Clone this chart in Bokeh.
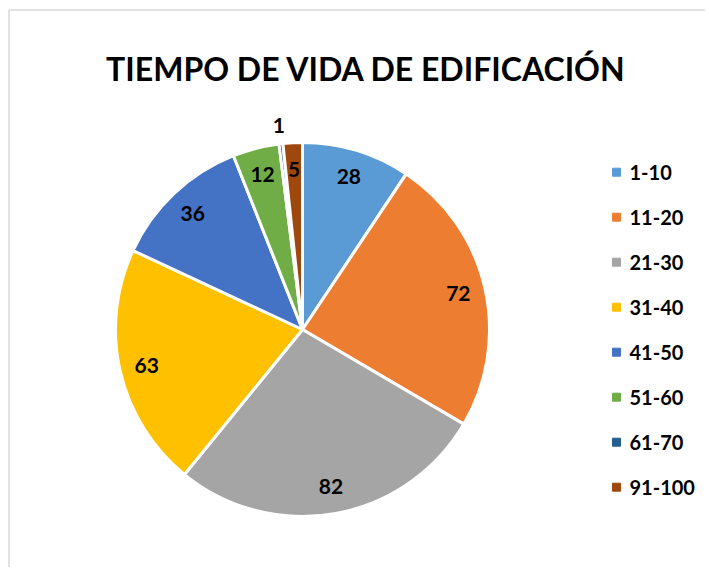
import math
from bokeh.plotting import figure
from bokeh.models import ColumnDataSource, Range1d
from bokeh.core.properties import value
from bokeh.embed import file_html
from bokeh.resources import INLINE

title_text = "TIEMPO DE VIDA DE EDIFICACIÓN"
categories = ["1-10", "11-20", "21-30", "31-40", "41-50", "51-60", "61-70", "91-100"]
counts = [28, 72, 82, 63, 36, 12, 1, 5]
colors = ["#5B9BD5", "#ED7D31", "#A5A5A5", "#FFC000", "#4472C4", "#70AD47", "#255E91", "#9E480E"]

W, H = 705, 567
FONT = "Lato"

p = figure(width=W, height=H, output_backend="svg", toolbar_location=None,
           x_range=Range1d(0, W), y_range=Range1d(0, H), min_border=0)
p.axis.visible = False
p.xgrid.visible = False
p.ygrid.visible = False
p.outline_line_color = None
p.background_fill_color = "white"
p.border_fill_color = "white"

# chart frame (left and top edges visible)
p.line(x=[8.5, 8.5, W], y=[0, H - 9.5, H - 9.5], line_color="#D9D9D9", line_width=1.5)

cx, cy, R = 302, H - 329, 187
total = float(sum(counts))
starts, ends, lx, ly, txt = [], [], [], [], []
cum = 0.0
for c in counts:
    a0 = math.pi / 2 - (cum + c) / total * 2 * math.pi
    a1 = math.pi / 2 - cum / total * 2 * math.pi
    starts.append(a0)
    ends.append(a1)
    mid = (a0 + a1) / 2
    rr = R * 1.1 if c / total < 0.01 else R * 0.855
    lx.append(cx + rr * math.cos(mid))
    ly.append(cy + rr * math.sin(mid))
    txt.append(str(c))
    cum += c

src = ColumnDataSource(dict(start=starts, end=ends, color=colors, cat=categories,
                            x=[cx] * len(counts), y=[cy] * len(counts)))
p.wedge(x="x", y="y", radius=R, start_angle="start", end_angle="end",
        fill_color="color", line_color="white", line_width=3, source=src)

lsrc = ColumnDataSource(dict(x=lx, y=ly, t=txt))
p.text(x="x", y="y", text="t", source=lsrc, text_font=value(FONT), text_font_style="bold",
       text_font_size="21px", text_align="center", text_baseline="middle", text_color="black")

p.text(x=[366], y=[H - 68], text=[title_text], text_font=value(FONT), text_font_style="bold",
       text_font_size="32px", text_align="center", text_baseline="alphabetic", text_color="black")

# legend
leg_y = [H - (171.7 + 45 * i) for i in range(len(categories))]
legsrc = ColumnDataSource(dict(x=[616] * len(categories), y=leg_y, c=colors,
                               tx=[629] * len(categories), t=categories))
p.scatter(x="x", y="y", marker="square", size=8, fill_color="c", line_color="c", source=legsrc)
p.text(x="tx", y="y", text="t", source=legsrc, text_font=value(FONT), text_font_style="bold",
       text_font_size="20px", text_align="left", text_baseline="middle", text_color="black")

open("out.html", "w").write(file_html(p, INLINE))
